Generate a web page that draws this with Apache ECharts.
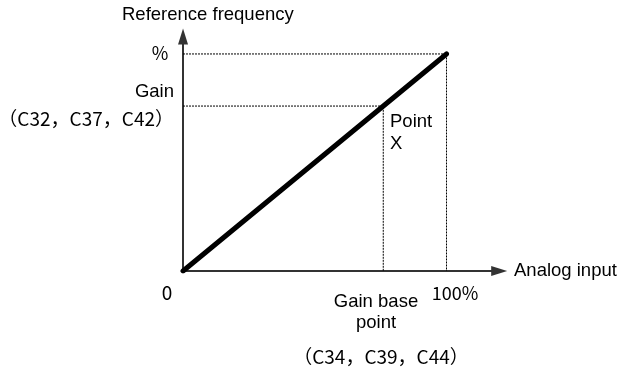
<!DOCTYPE html>
<html><head><meta charset="utf-8">
<script src="https://cdn.jsdelivr.net/npm/echarts@6/dist/echarts.min.js"></script>
<style>html,body{margin:0;padding:0;background:#fff}#c{width:619px;height:370px}</style>
</head><body><div id="c"></div>
<script>
// data (percent of full scale)
const lineX = [0, 100];
const lineY = [0, 100];
const fullScale = 100;
const gainBase = 76;
const gainValue = 76;
const axisMaxX = 120;
const axisMaxY = 108;
// texts
const yAxisTitle = 'Reference frequency';
const xAxisTitle = 'Analog input';
const yTopLabel = '%';
const gainLabel = 'Gain';
const gainParams = '（C32，C37，C42）';
const originLabel = '0';
const xFullLabel = '100%';
const gainBaseLabel = ['Gain base', 'point'];
const gainBaseParams = '（C34，C39，C44）';
const pointLabel = ['Point', 'X'];

const chart = echarts.init(document.getElementById('c'));
const sans = 'Liberation Sans';
const gothic = 'Noto Sans CJK JP';
const dotted = {color: '#000', width: 1, type: [2, 1]};
function txt(text, x, y, family, size, align) {
  return {type: 'text', x: x, y: y, style: {text: text, fontFamily: family, fontSize: size, fill: '#000',
    textAlign: align || 'left', textVerticalAlign: 'middle'}};
}
chart.setOption({
  animation: false,
  grid: {left: 183, right: 119.8, top: 36.6, bottom: 99},
  xAxis: {type: 'value', min: 0, max: axisMaxX,
    axisLine: {show: true, lineStyle: {color: '#333', width: 2}, symbol: ['none', 'triangle'], symbolSize: [10, 16]},
    axisTick: {show: false}, axisLabel: {show: false}, splitLine: {show: false}},
  yAxis: {type: 'value', min: 0, max: axisMaxY,
    axisLine: {show: true, lineStyle: {color: '#333', width: 2}, symbol: ['none', 'triangle'], symbolSize: [10, 16]},
    axisTick: {show: false}, axisLabel: {show: false}, splitLine: {show: false}},
  series: [
    {type: 'line', data: [[0, fullScale], [fullScale, fullScale], [fullScale, 0]], symbol: 'none', lineStyle: dotted, z: 1},
    {type: 'line', data: [[0, gainValue], [gainBase, gainValue], [gainBase, 0]], symbol: 'none', lineStyle: dotted, z: 1},
    {type: 'line', data: lineX.map((x, i) => [x, lineY[i]]), symbol: 'none',
      lineStyle: {color: '#000', width: 5, cap: 'round'}, z: 3}
  ],
  graphic: [
    txt(yAxisTitle, 122, 15, sans, 18.5),
    txt(xAxisTitle, 514, 271, sans, 18.5),
    txt(yTopLabel, 160, 53, gothic, 18, 'center'),
    txt(gainLabel, 174, 92, sans, 18.5, 'right'),
    txt(gainParams, 174, 119, gothic, 19, 'right'),
    txt(originLabel, 167, 293, gothic, 19, 'center'),
    txt(xFullLabel, 455, 293, gothic, 18, 'center'),
    txt(gainBaseLabel[0], 376, 302, sans, 18.5, 'center'),
    txt(gainBaseLabel[1], 376, 323, sans, 18.5, 'center'),
    txt(gainBaseParams, 381, 357, gothic, 19, 'center'),
    txt(pointLabel[0], 390, 122, sans, 18.5),
    txt(pointLabel[1], 390, 144, sans, 18.5)
  ]
});
</script></body></html>
